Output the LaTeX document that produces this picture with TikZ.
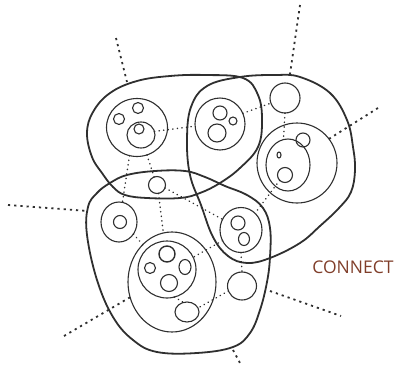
\documentclass[tikz,border=0pt]{standalone}
\usepackage{fontspec}
\newfontfamily\cfont{Open Sans}
\usetikzlibrary{shapes.geometric}
\definecolor{ink}{HTML}{2F2F2F}
\definecolor{brick}{RGB}{128,62,42}
\begin{document}
\begin{tikzpicture}[x=1pt,y=-1pt,
  blob/.style={draw=ink,line width=1.8pt},
  ring/.style={draw=ink,line width=1.1pt,ellipse,inner sep=0pt,outer sep=0pt},
  sz/.style 2 args={minimum width=#1pt,minimum height=#2pt},
  link/.style={draw=ink,line width=1.5pt,line cap=round,dash pattern=on 0.3pt off 4.3pt},
  ext/.style={draw=ink,line width=1.8pt,dash pattern=on 2.2pt off 4pt},
]
\useasboundingbox (0,0) rectangle (396,364);
% blobs
\draw[blob] plot[smooth cycle,tension=0.65] coordinates {(87,133) (93,112) (110,93) (137,81) (170,76) (205,75) (243,78) (258,95) (262,120) (258,147) (240,168) (220,183) (200,193) (180,198) (147,198) (125,195) (113,187) (102,173) (92,157)};
\draw[blob] plot[smooth cycle,tension=0.65] coordinates {(187,140) (191,107) (207,86) (240,77) (275,75) (300,77) (330,93) (347,120) (353,147) (355,170) (351,192) (339,208) (320,226) (300,243) (270,258) (247,263) (228,256) (213,237) (201,205) (190,175)};
\draw[blob] plot[smooth cycle,tension=0.65] coordinates {(87,235) (88,207) (97,193) (110,183) (127,175) (155,171) (185,171) (205,177) (225,186) (247,195) (263,208) (270,228) (270,257) (267,282) (260,310) (250,333) (233,347) (197,353) (157,352) (133,340) (113,317) (97,280)};
% group A1
\node[ring,sz={61}{58}] (A1) at (137,127.5) {};
\node[ring,sz={28}{26}] (A1i) at (141,135) {};
\node[ring,sz={10}{10}] (A1t) at (139,129) {};
\node[ring,sz={11}{11}] (A1s1) at (119,119) {};
\node[ring,sz={11}{11}] (A1s2) at (138,108) {};
% group A2
\node[ring,sz={50}{52}] (A2) at (220,124) {};
\node[ring,sz={14}{14}] (A2a) at (220,113) {};
\node[ring,sz={8}{8}] (A2b) at (233,121) {};
\node[ring,sz={18}{18}] (A2c) at (217,133) {};
% group C
\node[ring,sz={30}{30}] (C1) at (285,98) {};
\node[ring,sz={80}{80}] (C2) at (297,163) {};
\node[ring,sz={44}{52}] (C2i) at (288,165) {};
\node[ring,sz={14}{14}] (C2a) at (303,140) {};
\node[ring,sz={15}{15}] (C2b) at (285,175) {};
\node[ring,sz={4}{6}] (C2t) at (279,155) {};
% group B
\node[ring,sz={17}{17}] (B0) at (157,185) {};
\node[ring,sz={36}{40}] (B5) at (119,222) {};
\node[ring,sz={13}{13}] (B5i) at (120,222) {};
\node[ring,sz={88}{100}] (B1) at (172,282) {};
\node[ring,sz={58}{57}] (B1i) at (167,269.5) {};
\node[ring,sz={16}{16},line width=1.4pt] (B1a) at (167,254) {};
\node[ring,sz={11}{11}] (B1b) at (150,268) {};
\node[ring,sz={12}{15}] (B1c) at (185,267) {};
\node[ring,sz={17}{17}] (B1d) at (169,283) {};
\node[ring,sz={24}{20}] (B4) at (187,312) {};
\node[ring,sz={42}{45}] (B2) at (241,230) {};
\node[ring,sz={14}{14}] (B2a) at (238,223) {};
\node[ring,sz={11}{13}] (B2b) at (244,239) {};
\node[ring,sz={29}{28}] (B3) at (242,286) {};
% internal dotted links
\draw[link] (A1i.15) -- (A2.185);
\draw[link] (A1.-105) -- (B5.80);
\draw[link] (A1.-70) -- (B0.110);
\draw[link] (B0.-80) -- (B1.100);
\draw[link] (B0.-20) -- (B2.150);
\draw[link] (B5.-40) -- (B1.128);
\draw[link] (A2.25) -- (C1.200);
\draw[link] (C1.-90) -- (C2i.100);
\draw[link] (C2b.225) -- (B2.50);
\draw[link] (B2.-90) -- (B3.90);
\draw[link] (B2.210) -- (B1i.25);
\draw[link] (B3.200) -- (B4.20);
\draw[link] (B1i.-75) -- (B4.110);
% external dotted lines
\coordinate (e1a) at (116,38); \coordinate (e1b) at (127,82);
\coordinate (e2a) at (300,5); \coordinate (e2b) at (290,74);
\coordinate (e3b) at (378,108);
\coordinate (e4a) at (8,205); \coordinate (e4b) at (88,211);
\coordinate (e5b) at (64,336);
\coordinate (e6a) at (270,291); \coordinate (e6b) at (341,316);
\coordinate (e7a) at (233,350); \coordinate (e7b) at (240,363);
\draw[ext] (e1a) -- (e1b);
\draw[ext] (e2a) -- (e2b);
\draw[ext] (C2.37) -- (e3b);
\draw[ext] (e4a) -- (e4b);
\draw[ext] (B1.200) -- (e5b);
\draw[ext] (e6a) -- (e6b);
\draw[ext] (e7a) -- (e7b);
% label
\node[text=brick,font=\cfont\fontsize{17.5}{20}\selectfont,inner sep=0pt] (lbl) at (353,267) {CONNECT};
\end{tikzpicture}
\end{document}
